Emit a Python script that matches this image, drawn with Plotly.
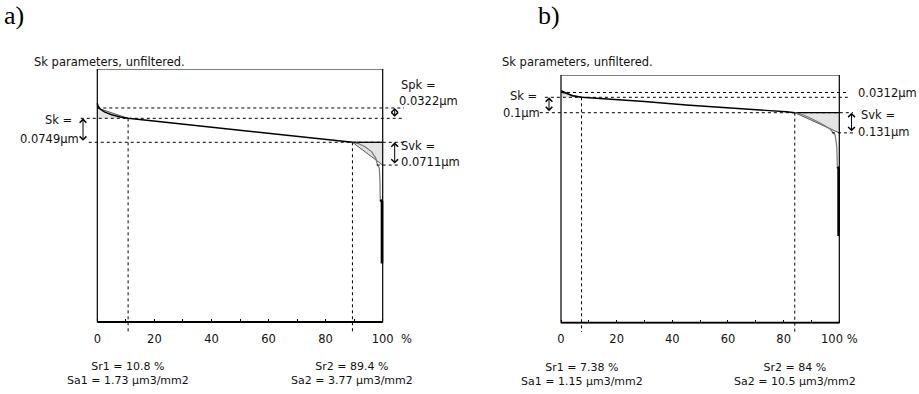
import plotly.graph_objects as go

W, H = 919, 394

# ---------------- data : panel a) ----------------
A_SK, A_SPK, A_SVK = 0.0749, 0.0322, 0.0711      # µm
A_SR1, A_SR2 = 10.8, 89.4                        # %
A_SA1, A_SA2 = 1.73, 3.77                        # µm3/mm2
A_CORE_X = [0, 0.3, 1, 2.5, 5, 8, 10.8, 20, 30, 40, 50, 60, 70, 80, 89.4]
A_CORE_Y = [0.122, 0.113, 0.104, 0.095, 0.086, 0.079, 0.0749, 0.066, 0.057, 0.047, 0.037, 0.028, 0.019, 0.009, 0.0]
A_TAIL_X = [89.4, 91.5, 93.8, 96.1, 97.6, 98.2, 98.8, 99.05, 99.15]
A_TAIL_Y = [0.0, -0.004, -0.014, -0.029, -0.050, -0.071, -0.080, -0.120, -0.180]
A_END_X = [99.15, 99.75, 99.75]
A_END_Y = [-0.180, -0.185, -0.378]

# ---------------- data : panel b) ----------------
B_SK, B_SPK, B_SVK = 0.1, 0.0312, 0.131
B_SR1, B_SR2 = 7.38, 84
B_SA1, B_SA2 = 1.15, 10.5
B_CORE_X = [0, 0.7, 2, 4, 7.38, 20, 30, 45, 60, 70, 81, 84]
B_CORE_Y = [0.143, 0.137, 0.122, 0.110, 0.100, 0.085, 0.073, 0.050, 0.033, 0.022, 0.006, 0.0]
B_TAIL_X = [84, 86.5, 89.5, 93.1, 96.7, 98.5, 99.1, 99.3]
B_TAIL_Y = [0.0, -0.010, -0.034, -0.067, -0.106, -0.145, -0.220, -0.351]
B_END_X = [99.3, 99.75, 99.75]
B_END_Y = [-0.351, -0.360, -0.800]

TICK_VALS = [0, 10, 20, 30, 40, 50, 60, 70, 80, 90, 100]
TICK_TEXT_A = ["0", "", "20", "", "40", "", "60", "", "80", "", "100"]
TICK_TEXT_B = ["0", "", "20", "", "40", "", "60", "", "80", "", "100 %"]

TITLE = "Sk parameters, unfiltered."

FONT = dict(family="DejaVu Sans", size=11.5, color="#111")


def frame(x0px, x100px, top_px, boxbot_px, ytop, ybot, dl_px, dr_px, db_px):
    sx = (x100px - x0px) / 100.0
    sy = (boxbot_px - top_px) / (ytop - ybot)
    xr = [(dl_px - x0px) / sx, (dr_px - x0px) / sx]
    yr = [ybot - (db_px - boxbot_px) / sy, ytop]
    xd = [dl_px / W, dr_px / W]
    yd = [1 - db_px / H, 1 - top_px / H]
    pos = 1 - boxbot_px / H
    return xr, yr, xd, yd, pos


# axis limits of the box (µm) for each panel
A_YMAX, A_YMIN = 0.2288, -0.561
B_YMAX, B_YMIN = 0.2448, -1.3636

FA = frame(97.3, 382.7, 69, 322, A_YMAX, A_YMIN, 76, 414, 332)
FB = frame(561, 839.3, 75, 322.7, B_YMAX, B_YMIN, 536, 862, 332)

fig = go.Figure()
shapes = []
annots = []


def panel(xa, ya, fr, ymax, ymin, sk, spk, svk, sr1, sr2,
          cx, cy, tx, ty, ex, ey, ext):
    xr, yr, xd, yd, pos = fr
    (l_up, l_lo, r_top, r_up, r_lo, svk0, svk1, ax_sk, ax_spk, ax_svk) = ext
    # triangles
    fig.add_trace(go.Scatter(x=[0, 0, sr1, 0], y=[sk + spk, sk, sk, sk + spk], fill="toself",
                             fillcolor="#e4e4e4", mode="lines", line=dict(width=0),
                             xaxis=xa, yaxis=ya, hoverinfo="skip", showlegend=False))
    fig.add_trace(go.Scatter(x=[sr2, 100, 100, sr2], y=[0, 0, -svk, 0], fill="toself",
                             fillcolor="#e4e4e4", mode="lines", line=dict(width=0),
                             xaxis=xa, yaxis=ya, hoverinfo="skip", showlegend=False))
    fig.add_trace(go.Scatter(x=[0, sr1], y=[sk + spk, sk], mode="lines",
                             line=dict(color="#555", width=1), xaxis=xa, yaxis=ya,
                             hoverinfo="skip", showlegend=False))
    fig.add_trace(go.Scatter(x=[sr2, 100], y=[0, -svk], mode="lines",
                             line=dict(color="#555", width=1), xaxis=xa, yaxis=ya,
                             hoverinfo="skip", showlegend=False))
    fig.add_trace(go.Scatter(x=[sr2, 100], y=[0, 0], mode="lines",
                             line=dict(color="black", width=1.3), xaxis=xa, yaxis=ya,
                             hoverinfo="skip", showlegend=False))
    # curve
    fig.add_trace(go.Scatter(x=cx, y=cy, mode="lines", line=dict(color="black", width=1.4),
                             xaxis=xa, yaxis=ya, hoverinfo="skip", showlegend=False))
    fig.add_trace(go.Scatter(x=tx, y=ty, mode="lines", line=dict(color="#777", width=1.2),
                             xaxis=xa, yaxis=ya, hoverinfo="skip", showlegend=False))
    fig.add_trace(go.Scatter(x=ex, y=ey, mode="lines", line=dict(color="black", width=2.6),
                             xaxis=xa, yaxis=ya, hoverinfo="skip", showlegend=False))

    dash = dict(color="black", width=1, dash="3px,3px")
    # box
    shapes.append(dict(type="rect", xref=xa, yref=ya, x0=0, x1=100, y0=ymin, y1=ymax,
                       line=dict(color="black", width=1.2), layer="above"))
    shapes.append(dict(type="line", xref=xa, yref=ya, x0=0, x1=100, y0=ymin, y1=ymin,
                       line=dict(color="black", width=1.8), layer="above"))
    # dashed guide lines
    shapes.append(dict(type="line", xref=xa, yref=ya, x0=0, x1=r_top, y0=sk + spk, y1=sk + spk, line=dash))
    shapes.append(dict(type="line", xref=xa, yref=ya, x0=l_up, x1=r_up, y0=sk, y1=sk, line=dash))
    shapes.append(dict(type="line", xref=xa, yref=ya, x0=l_lo, x1=r_lo, y0=0, y1=0, line=dash))
    shapes.append(dict(type="line", xref=xa, yref=ya, x0=svk0, x1=svk1, y0=-svk, y1=-svk, line=dash))
    shapes.append(dict(type="line", xref=xa, yref=ya, x0=sr1, x1=sr1, y0=sk, y1=yr[0], line=dash))
    shapes.append(dict(type="line", xref=xa, yref=ya, x0=sr2, x1=sr2, y0=0, y1=yr[0], line=dash))

    # double arrows
    for xpos, y1, y2 in [(ax_sk, sk, 0), (ax_spk, sk + spk, sk), (ax_svk, 0, -svk)]:
        annots.append(dict(x=xpos, y=y1, ax=xpos, ay=y2, xref=xa, yref=ya, axref=xa, ayref=ya,
                           text="", showarrow=True, arrowhead=4, arrowside="end+start",
                           arrowsize=1.3, arrowwidth=1, arrowcolor="black"))


EXT_A = (-5.8, -3.0, 107.5, 107.5, 108.3, 97.9, 105.8, -5.0, 104.2, 104.2)
EXT_B = (-5.8, -7.6, 103.1, 103.1, 104.9, 97.4, 104.9, -4.3, 103.8, 104.4)

panel("x", "y", FA, A_YMAX, A_YMIN, A_SK, A_SPK, A_SVK, A_SR1, A_SR2,
      A_CORE_X, A_CORE_Y, A_TAIL_X, A_TAIL_Y, A_END_X, A_END_Y, EXT_A)
panel("x2", "y2", FB, B_YMAX, B_YMIN, B_SK, B_SPK, B_SVK, B_SR1, B_SR2,
      B_CORE_X, B_CORE_Y, B_TAIL_X, B_TAIL_Y, B_END_X, B_END_Y, EXT_B)


def txt(text, x, y, xref, yref, xanchor="left", xshift=0, yshift=0, font=FONT):
    annots.append(dict(text=text, x=x, y=y, xref=xref, yref=yref, xanchor=xanchor,
                       yanchor="middle", xshift=xshift, yshift=yshift, showarrow=False, font=font))


def fmt(v):
    return f"{v:g}"


BFONT = dict(family="DejaVu Sans", size=11, color="#111")

# panel a labels
txt("Sk =", EXT_A[7], A_SK, "x", "y", "right", -9, -2)
txt(fmt(A_SK) + "µm", EXT_A[7], 0, "x", "y", "right", -2, 3)
txt("Spk =", 100, A_SK + A_SPK, "x", "y", "left", 16, 23)
txt(fmt(A_SPK) + "µm", 100, A_SK + A_SPK, "x", "y", "left", 14, 6.5)
txt("Svk =", 100, 0, "x", "y", "left", 16, -4)
txt(fmt(A_SVK) + "µm", 100, -A_SVK, "x", "y", "left", 16, 3.5)
txt("%", 100, A_YMIN, "x", "y", "left", 16, -17)
txt(f"Sr1 = {fmt(A_SR1)} %<br>Sa1 = {fmt(A_SA1)} µm3/mm2", A_SR1, 1 - 373.5 / H, "x", "paper", "center", font=BFONT)
txt(f"Sr2 = {fmt(A_SR2)} %<br>Sa2 = {fmt(A_SA2)} µm3/mm2", A_SR2, 1 - 373.5 / H, "x", "paper", "center", font=BFONT)

# panel b labels
txt("Sk =", EXT_B[7], B_SK, "x2", "y2", "right", -10, 1)
txt(fmt(B_SK) + "µm", EXT_B[7], 0, "x2", "y2", "right", -7, 0)
txt(fmt(B_SPK) + "µm", 100, B_SK + B_SPK, "x2", "y2", "left", 17, -1)
txt("Svk =", 100, 0, "x2", "y2", "left", 20, -2.5)
txt(fmt(B_SVK) + "µm", 100, -B_SVK, "x2", "y2", "left", 17, 1)
txt(f"Sr1 = {fmt(B_SR1)} %<br>Sa1 = {fmt(B_SA1)} µm3/mm2", B_SR1, 1 - 374.5 / H, "x2", "paper", "center", font=BFONT)
txt(f"Sr2 = {fmt(B_SR2)} %<br>Sa2 = {fmt(B_SA2)} µm3/mm2", B_SR2, 1 - 374.5 / H, "x2", "paper", "center", font=BFONT)

# titles
txt(TITLE, 32 / W, 1 - 62 / H, "paper", "paper", "left")
txt(TITLE, 500 / W, 1 - 62 / H, "paper", "paper", "left")
serif = dict(family="Liberation Serif", size=26, color="black")
txt("a)", 2 / W, 1 - 15 / H, "paper", "paper", "left", font=serif)
txt("b)", 536 / W, 1 - 15 / H, "paper", "paper", "left", font=serif)


def xaxis(fr, ticktext):
    xr, yr, xd, yd, pos = fr
    return dict(domain=xd, range=xr, anchor="free", position=pos, showline=False,
                showgrid=False, zeroline=False, ticks="inside", ticklen=3, tickwidth=1.2,
                tickcolor="black", tickmode="array", tickvals=TICK_VALS, ticktext=ticktext,
                tickfont=FONT, ticklabelstandoff=8, fixedrange=True)


def yaxis(fr):
    xr, yr, xd, yd, pos = fr
    return dict(domain=yd, range=yr, visible=False, showgrid=False, zeroline=False, fixedrange=True)


fig.update_layout(
    width=W, height=H, margin=dict(l=0, r=0, t=0, b=0),
    paper_bgcolor="white", plot_bgcolor="white", showlegend=False,
    xaxis=xaxis(FA, TICK_TEXT_A), yaxis=yaxis(FA),
    xaxis2=xaxis(FB, TICK_TEXT_B), yaxis2=dict(yaxis(FB), anchor="x2"),
    shapes=shapes, annotations=annots,
)

fig.write_html("out.html", config={"displayModeBar": False},
               post_script="document.body.style.margin='0';document.body.style.overflow='hidden';")
